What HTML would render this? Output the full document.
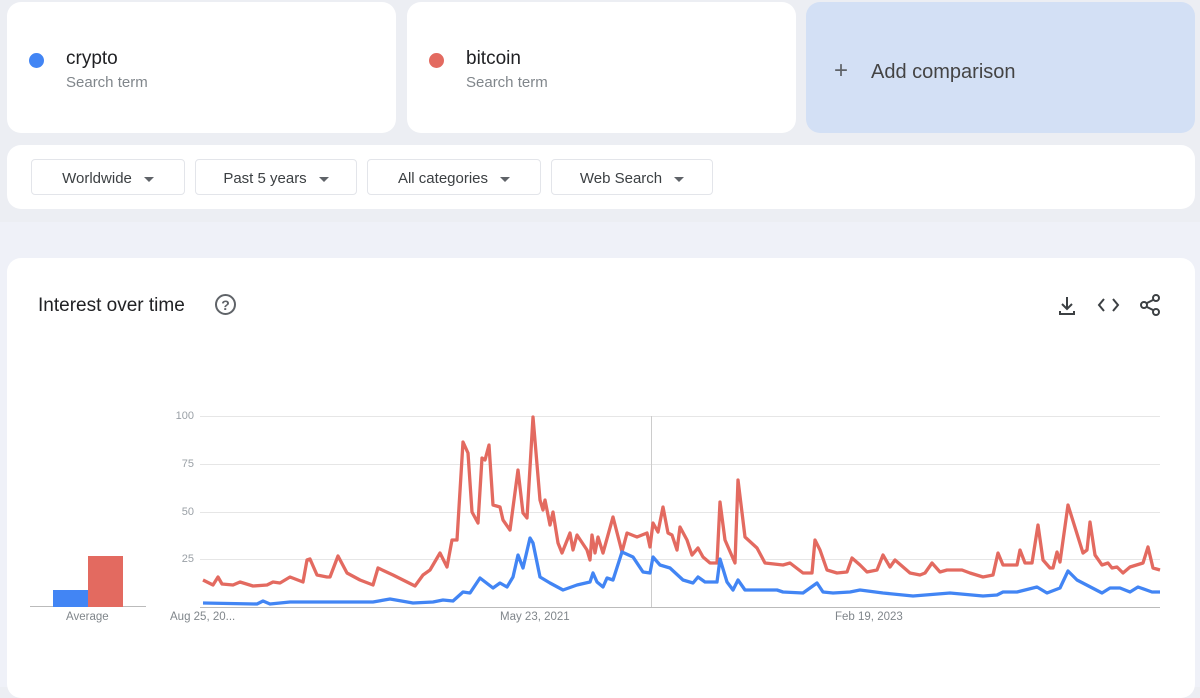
<!DOCTYPE html>
<html><head><meta charset="utf-8"><style>
*{margin:0;padding:0;box-sizing:border-box}
body{width:1200px;height:687px;overflow:hidden;background:#eceef3;font-family:"Liberation Sans",sans-serif;position:relative}
.card{position:absolute;background:#fff;border-radius:14px}
.dot{position:absolute;width:15px;height:15px;border-radius:50%}
.t{position:absolute;font-size:19px;color:#202124}
.s{position:absolute;font-size:15px;color:#80868b}
.f{position:absolute;top:159px;height:36px;border:1px solid #e3e5ea;border-radius:4px;font-size:15px;color:#3c4043;line-height:37px;text-align:center;background:#fff}
.f:after{content:"";display:inline-block;margin-left:12px;border-left:5px solid transparent;border-right:5px solid transparent;border-top:5px solid #5f6368;vertical-align:middle}
.yl{position:absolute;font-size:11px;color:#9aa0a6;text-align:right;width:30px}
.xl{position:absolute;font-size:11.5px;color:#80868b;top:611px}
</style></head><body>
<div style="position:absolute;left:0;top:222px;width:1200px;height:465px;background:#eff1f8"></div>
<div class="card" style="left:7px;top:2px;width:389px;height:131px"></div>
<div class="dot" style="left:29px;top:53px;background:#4285f4"></div>
<div class="t" style="left:66px;top:48px">crypto</div>
<div class="s" style="left:66px;top:74px">Search term</div>
<div class="card" style="left:407px;top:2px;width:389px;height:131px"></div>
<div class="dot" style="left:429px;top:53px;background:#e36a60"></div>
<div class="t" style="left:466px;top:48px">bitcoin</div>
<div class="s" style="left:466px;top:74px">Search term</div>
<div class="card" style="left:806px;top:2px;width:389px;height:131px;background:#d3e0f5"></div>
<div style="position:absolute;left:834px;top:57px;font-size:24px;color:#5f6368">+</div>
<div style="position:absolute;left:871px;top:61px;font-size:20px;color:#444">Add comparison</div>
<div class="card" style="left:7px;top:145px;width:1188px;height:64px"></div>
<div class="f" style="left:31px;width:154px">Worldwide</div>
<div class="f" style="left:195px;width:162px">Past 5 years</div>
<div class="f" style="left:367px;width:174px">All categories</div>
<div class="f" style="left:551px;width:162px">Web Search</div>
<div class="card" style="left:7px;top:258px;width:1188px;height:440px"></div>
<div style="position:absolute;left:38px;top:295px;font-size:19px;color:#202124">Interest over time</div>
<div style="position:absolute;left:215px;top:294px;width:21px;height:21px;border:2px solid #5f6368;border-radius:50%;font-size:14px;font-weight:bold;color:#5f6368;text-align:center;line-height:18px">?</div>
<svg style="position:absolute;left:0;top:0" width="1200" height="687">
<g stroke="#3c4043" stroke-width="2" fill="none">
<path d="M1067 297v12M1062 304l5 5 5-5M1060 311v3h14v-3"/>
<path d="M1104 299l-5 6 5 6M1113 299l5 6-5 6"/>
<circle cx="1156" cy="298" r="3"/><circle cx="1144" cy="305" r="3"/><circle cx="1156" cy="312" r="3"/>
<path d="M1147 303l6-3M1147 307l6 3"/>
</g>
<g stroke="#e6e6e6" stroke-width="1">
<line x1="200" y1="416.5" x2="1160" y2="416.5"/><line x1="200" y1="464.5" x2="1160" y2="464.5"/>
<line x1="200" y1="512.5" x2="1160" y2="512.5"/><line x1="200" y1="559.5" x2="1160" y2="559.5"/>
</g>
<line x1="200" y1="607.5" x2="1160" y2="607.5" stroke="#bbb"/>
<line x1="30" y1="606.5" x2="146" y2="606.5" stroke="#bbb"/>
<line x1="651.5" y1="416" x2="651.5" y2="607" stroke="#ccc"/>
<rect x="53" y="590" width="35" height="17" fill="#4285f4"/>
<rect x="88" y="556" width="35" height="51" fill="#e36a60"/>
<polyline fill="none" stroke="#e36a60" stroke-width="3.3" stroke-linejoin="round" points="203,580 213,585 218,577 222,584 233,585 240,582 253,586 267,585 273,582 280,583 290,577 303,582 307,560 310,559 317,575 327,577 330,577 338,556 347,573 360,580 373,585 378,568 393,575 407,582 415,586 423,575 430,570 440,553 447,567 452,540 457,540 463,442 468,453 472,512 478,523 482,458 485,460 489,445 493,505 500,507 503,520 510,530 518,470 523,513 527,518 533,417 540,500 543,510 545,500 550,525 553,512 558,543 562,553 570,533 573,550 577,535 587,550 590,560 592,535 595,553 598,537 603,553 613,517 622,552 627,533 637,537 647,533 650,547 653,523 658,532 663,507 668,533 672,535 677,550 680,527 687,540 692,555 698,548 703,557 710,563 717,563 720,502 725,540 735,563 738,480 745,537 757,548 765,563 783,565 790,563 803,573 812,573 815,540 820,550 827,570 837,573 847,572 852,558 860,565 867,572 877,570 883,555 890,567 895,560 910,573 920,575 925,573 932,563 940,572 947,570 962,570 970,573 983,577 993,575 998,553 1003,565 1017,565 1020,550 1025,563 1032,563 1038,525 1043,560 1050,568 1053,568 1057,552 1060,562 1068,505 1083,553 1087,550 1090,522 1095,555 1102,565 1108,563 1112,568 1117,567 1123,573 1130,567 1143,563 1148,547 1153,568 1160,570"/>
<polyline fill="none" stroke="#4285f4" stroke-width="3.3" stroke-linejoin="round" points="203,603 257,604 263,601 270,604 290,602 337,602 373,602 390,599 413,603 433,602 443,600 453,601 463,592 470,593 480,578 493,588 500,583 507,587 513,577 518,555 523,568 530,538 533,543 540,577 550,583 563,590 577,585 590,582 593,573 597,582 603,587 607,578 613,580 622,552 633,557 643,572 650,573 653,557 660,565 670,568 683,580 693,583 698,577 705,582 717,582 720,559 727,582 733,590 738,580 745,590 777,590 783,592 803,593 817,583 823,592 833,593 850,592 860,590 883,593 913,596 950,593 983,596 997,595 1003,592 1017,592 1037,587 1047,593 1060,588 1068,571 1077,580 1102,593 1110,588 1120,588 1130,592 1138,587 1152,592 1160,592"/>
</svg>
<div class="yl" style="left:164px;top:410px">100</div>
<div class="yl" style="left:164px;top:458px">75</div>
<div class="yl" style="left:164px;top:506px">50</div>
<div class="yl" style="left:164px;top:553px">25</div>
<div class="xl" style="left:66px">Average</div>
<div class="xl" style="left:170px">Aug 25, 20...</div>
<div class="xl" style="left:500px">May 23, 2021</div>
<div class="xl" style="left:835px">Feb 19, 2023</div>
</body></html>
